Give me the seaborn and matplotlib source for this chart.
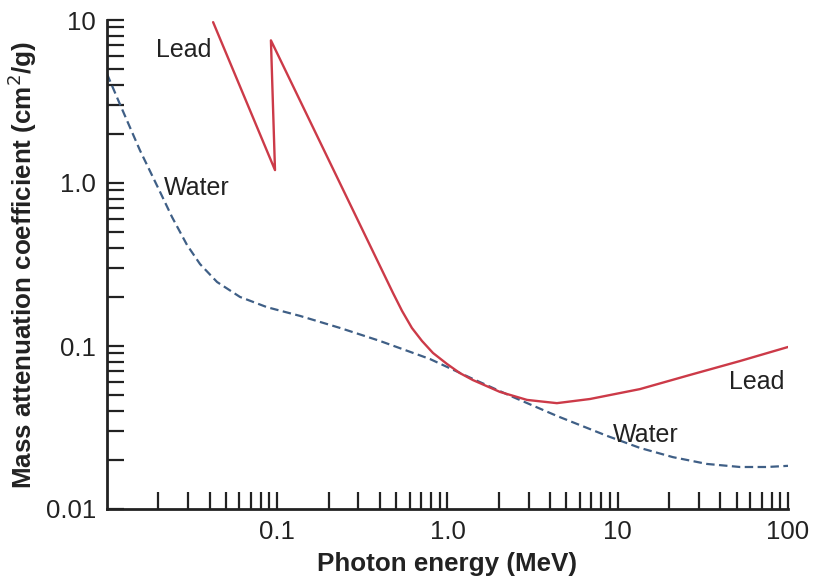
import numpy as np
import pandas as pd
import matplotlib
matplotlib.use("Agg")
import matplotlib.pyplot as plt
from matplotlib.ticker import LogLocator, FixedLocator, FixedFormatter, NullFormatter
import seaborn as sns

# Photon energy (MeV) and mass attenuation coefficient (cm^2/g)
lead_energy = [0.042, 0.097, 0.0918, 0.479, 0.541, 0.618, 0.708, 0.822, 0.993, 1.18, 1.41,
               2.03, 2.93, 4.39, 6.87, 13.5, 26.5, 52.3, 100.0]
lead_coeff = [9.7, 1.20, 7.5, 0.211, 0.164, 0.129, 0.1074, 0.0906, 0.0776, 0.0683, 0.0618,
              0.0523, 0.0467, 0.0446, 0.0473, 0.0544, 0.0664, 0.0809, 0.0986]

water_energy = [0.010, 0.0119, 0.0156, 0.0205, 0.0241, 0.0295, 0.0352, 0.0443, 0.0604,
                0.0871, 0.136, 0.234, 0.401, 0.789, 1.41, 2.43, 4.40, 8.65, 13.5, 21.1,
                33.4, 52.3, 75.3, 100.0]
water_coeff = [4.67, 3.05, 1.59, 0.881, 0.618, 0.417, 0.318, 0.247, 0.200,
               0.173, 0.153, 0.129, 0.1074, 0.0832, 0.0628, 0.0486, 0.0372, 0.0281, 0.0237, 0.0208,
               0.0189, 0.0181, 0.0181, 0.0184]

x_ticks = [0.1, 1.0, 10, 100]
x_tick_labels = ["0.1", "1.0", "10", "100"]
y_ticks = [0.01, 0.1, 1.0, 10]
y_tick_labels = ["0.01", "0.1", "1.0", "10"]

sns.set_style("white")
plt.rcParams["font.family"] = ["Liberation Sans", "DejaVu Sans"]

lead_df = pd.DataFrame({"energy": lead_energy, "coeff": lead_coeff})
water_df = pd.DataFrame({"energy": water_energy, "coeff": water_coeff})

fig = plt.figure(figsize=(8.14, 5.86), dpi=100)
ax = fig.add_axes([107 / 814, 1 - 509 / 586, (788 - 107) / 814, (509 - 20) / 586])

sns.lineplot(data=water_df, x="energy", y="coeff", sort=False, ax=ax,
             color="#3f5f86", linewidth=1.6, linestyle=(0, (3.8, 2.0)))
sns.lineplot(data=lead_df, x="energy", y="coeff", sort=False, ax=ax,
             color="#cc3a48", linewidth=1.7)

ax.set_xscale("log")
ax.set_yscale("log")
ax.set_xlim(0.01, 100)
ax.set_ylim(0.01, 10)

for side in ["top", "right"]:
    ax.spines[side].set_visible(False)
for side in ["left", "bottom"]:
    ax.spines[side].set_linewidth(2)
    ax.spines[side].set_color("#222222")

ax.xaxis.set_major_locator(FixedLocator(x_ticks))
ax.xaxis.set_major_formatter(FixedFormatter(x_tick_labels))
ax.yaxis.set_major_locator(FixedLocator(y_ticks))
ax.yaxis.set_major_formatter(FixedFormatter(y_tick_labels))
ax.xaxis.set_minor_locator(LogLocator(base=10, subs=np.arange(2, 10)))
ax.yaxis.set_minor_locator(LogLocator(base=10, subs=np.arange(2, 10)))
ax.xaxis.set_minor_formatter(NullFormatter())
ax.yaxis.set_minor_formatter(NullFormatter())

ax.tick_params(axis="both", which="both", direction="in", length=12, width=1.6,
               color="#222222", labelsize=18.5, labelcolor="#222222",
               bottom=True, left=True, top=False, right=False)
ax.tick_params(axis="x", which="both", pad=8)
ax.tick_params(axis="y", which="both", pad=8)

ax.set_xlabel("Photon energy (MeV)", fontsize=18.7, fontweight="bold", color="#222222", labelpad=6)
ax.set_ylabel("Mass attenuation coefficient (cm$^2$/g)", fontsize=18.7, fontweight="bold",
              color="#222222", labelpad=5)

ax.text(0.0283, 6.55, "Lead", fontsize=18, ha="center", va="center", color="#222222")
ax.text(0.0338, 0.93, "Water", fontsize=18, ha="center", va="center", color="#222222")
ax.text(65.8, 0.0601, "Lead", fontsize=18, ha="center", va="center", color="#222222")
ax.text(14.7, 0.0284, "Water", fontsize=18, ha="center", va="center", color="#222222")

fig.savefig("out.png", dpi=100, facecolor="white")
